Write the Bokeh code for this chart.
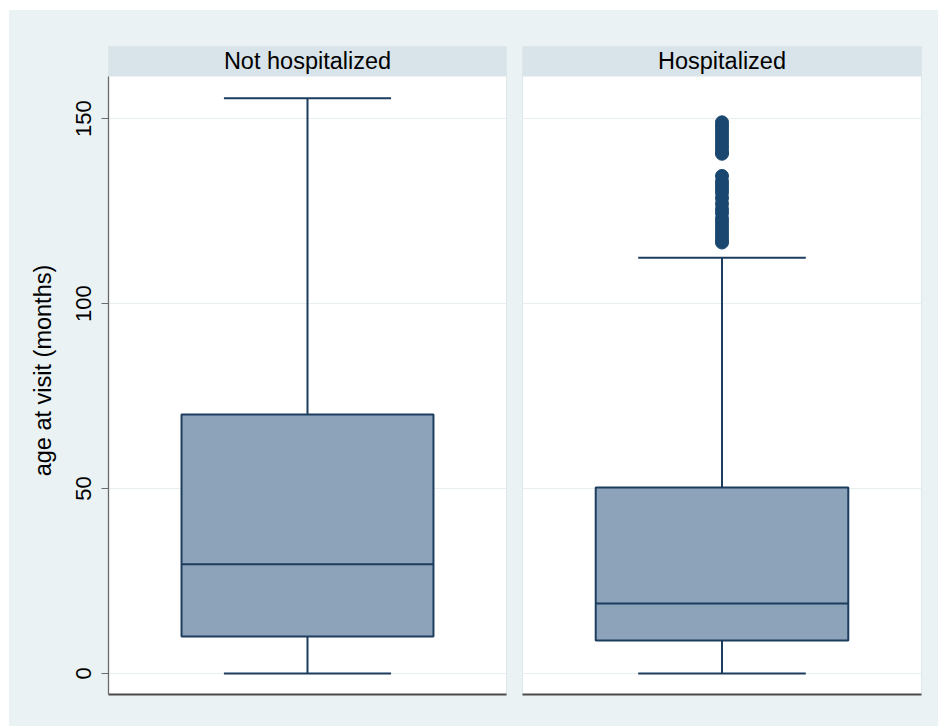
from bokeh.plotting import figure
from bokeh.layouts import row
from bokeh.models import Range1d, FixedTicker, Grid, ColumnDataSource
from bokeh.core.properties import value
from bokeh.embed import file_html
from bokeh.resources import INLINE

# ---- data ----
groups = ["Not hospitalized", "Hospitalized"]
lower_whisker = [0, 0]
q1 = [10.0, 8.9]
median = [29.5, 18.9]
q3 = [70.0, 50.3]
upper_whisker = [155.5, 112.4]
outliers = [
    [],
    [149, 148, 147, 146, 145, 144, 143, 142, 141, 140.5,
     134.5, 133, 132, 131, 130, 128.5, 127, 125.5, 124.5, 123, 122, 121,
     120, 119, 118, 117, 116.5],
]
y_ticks = [0, 50, 100, 150]
y_title = "age at visit (months)"

# ---- style ----
BG = "#eaf2f3"
HEADER = "#d8e4ea"
NAVY = "#1a476f"
BOXLINE = "#1c3d5e"
BOXFILL = "#8ca3b9"
FONT = "Liberation Sans"

Y0, YDATA_TOP, YTOP = -5.7, 161.4, 169.5
BOX_W, CAP_W = 0.633, 0.42
H = 716


def panel(i, width, left_border, right_border, with_axis):
    p = figure(width=width, height=H, output_backend="svg", toolbar_location=None,
               x_range=Range1d(0, 1), y_range=Range1d(Y0, YTOP),
               min_border_left=left_border, min_border_right=right_border,
               min_border_top=36, min_border_bottom=H - 684,
               y_axis_location="left" if with_axis else None)
    p.border_fill_color = BG
    p.background_fill_color = "white"
    p.outline_line_color = "#dfe8ea"
    p.xgrid.visible = False
    p.ygrid.visible = False
    p.add_layout(Grid(dimension=1, ticker=FixedTicker(ticks=y_ticks),
                      grid_line_color="#e8eff1", grid_line_width=1.2))

    xa = p.xaxis[0]
    xa.ticker = FixedTicker(ticks=[])
    xa.axis_line_color = "#4a4a4a"
    xa.axis_line_width = 2
    xa.major_tick_line_color = None
    xa.minor_tick_line_color = None
    xa.major_label_text_font_size = "0px"

    if with_axis:
        ya = p.yaxis[0]
        ya.ticker = FixedTicker(ticks=y_ticks)
        ya.bounds = (Y0, YDATA_TOP)
        ya.axis_line_color = "#6a6a6a"
        ya.axis_line_width = 1.3
        ya.major_tick_line_color = "#6a6a6a"
        ya.major_tick_out = 7
        ya.major_tick_in = 0
        ya.minor_tick_line_color = None
        ya.major_label_orientation = "vertical"
        ya.major_label_text_font = FONT
        ya.major_label_text_font_size = "22px"
        ya.major_label_text_color = "black"
        ya.major_label_standoff = 10
        ya.axis_label = y_title
        ya.axis_label_text_font = FONT
        ya.axis_label_text_font_size = "23.5px"
        ya.axis_label_text_font_style = "normal"
        ya.axis_label_text_color = "black"
        ya.axis_label_standoff = 18

    cx = 0.5
    src = ColumnDataSource(dict(x=[cx], lw=[lower_whisker[i]], q1=[q1[i]], med=[median[i]],
                                q3=[q3[i]], uw=[upper_whisker[i]],
                                cl=[cx - CAP_W / 2], cr=[cx + CAP_W / 2],
                                bl=[cx - BOX_W / 2], br=[cx + BOX_W / 2]))
    # whiskers
    p.segment(x0="x", y0="q3", x1="x", y1="uw", source=src, line_color=BOXLINE, line_width=2)
    p.segment(x0="x", y0="lw", x1="x", y1="q1", source=src, line_color=BOXLINE, line_width=2)
    p.segment(x0="cl", y0="uw", x1="cr", y1="uw", source=src, line_color=BOXLINE, line_width=2)
    p.segment(x0="cl", y0="lw", x1="cr", y1="lw", source=src, line_color=BOXLINE, line_width=2)
    # box
    p.quad(left="bl", right="br", bottom="q1", top="q3", source=src,
           fill_color=BOXFILL, line_color=BOXLINE, line_width=2)
    p.segment(x0="bl", y0="med", x1="br", y1="med", source=src, line_color=BOXLINE, line_width=2)
    # outliers
    if outliers[i]:
        p.scatter(x=[cx] * len(outliers[i]), y=outliers[i], size=13, marker="circle",
                  fill_color=NAVY, line_color=NAVY)

    # header strip
    p.quad(left=[0], right=[1], bottom=[YDATA_TOP], top=[YTOP],
           fill_color=HEADER, line_color=None)
    p.text(x=[0.5], y=[(YDATA_TOP + YTOP) / 2], text=[groups[i]],
           text_align="center", text_baseline="middle",
           text_font=value(FONT), text_font_size="23.5px", text_color="black")
    return p


p1 = panel(0, 505, 99, 8, True)
p2 = panel(1, 424, 8, 17, False)
layout = row(p1, p2, margin=(10, 0, 0, 9))
layout.spacing = 0
layout.styles = {"background-color": BG}

open("out.html", "w").write(file_html(layout, INLINE))
